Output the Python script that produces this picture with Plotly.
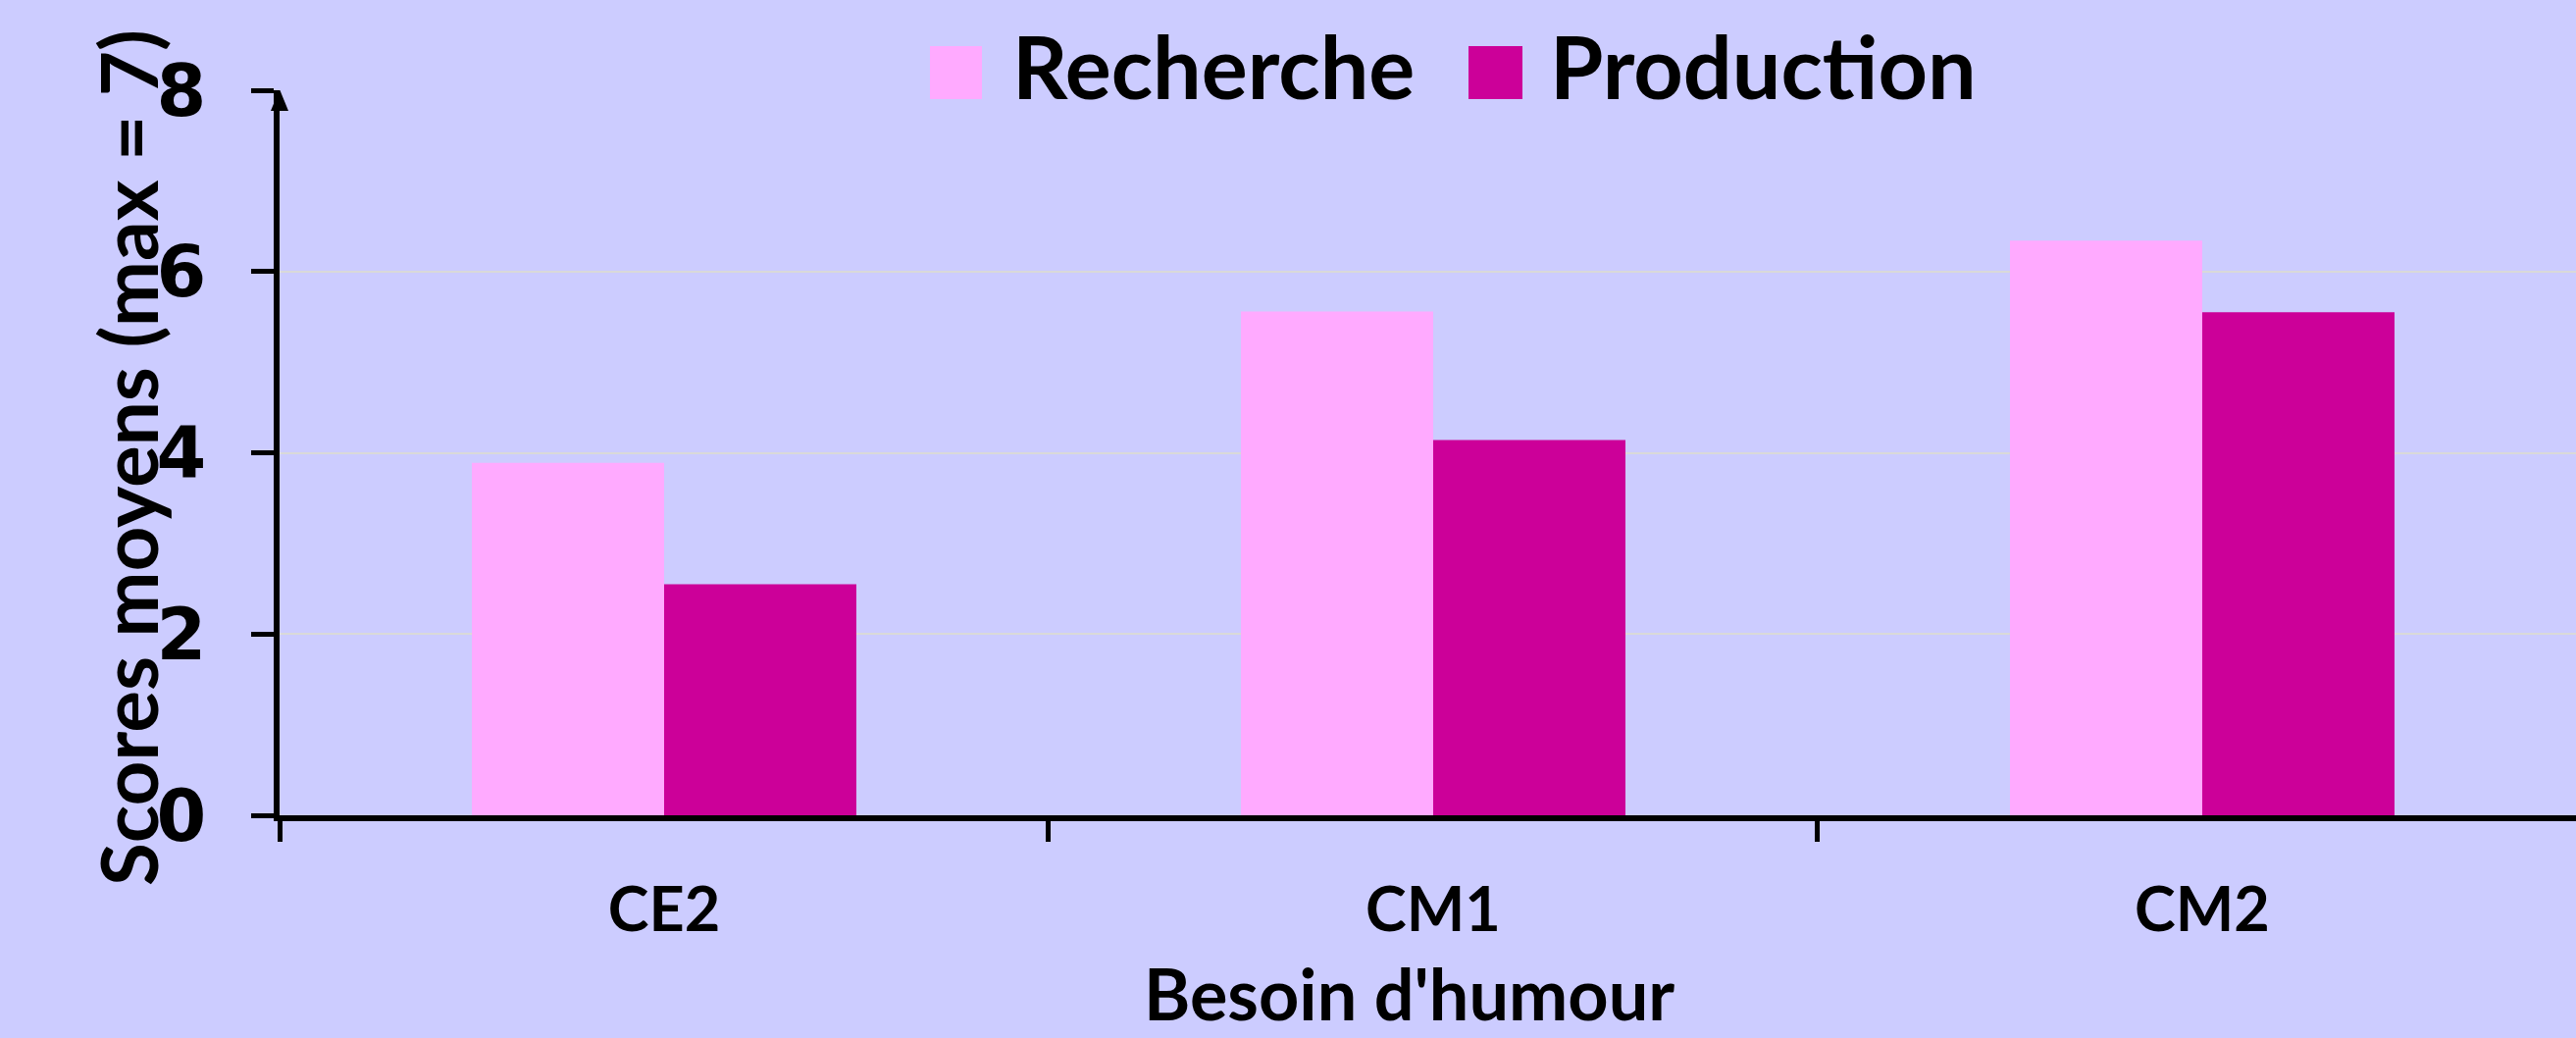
import plotly.graph_objects as go

# ---- data ----
categories = ["CE2", "CM1", "CM2"]
recherche = [3.89, 5.56, 6.34]
production = [2.55, 4.14, 5.55]
series_names = ["Recherche", "Production"]
y_ticks = [0, 2, 4, 6, 8]
y_title = "Scores moyens (max = 7)"
x_title = "Besoin d'humour"

# ---- layout geometry ----
W, H = 2626, 1058
L, R, T, B = 285, 0, 92, 227
PW = W - L - R
PH = H - T - B


def px(x):
    return (x - L) / PW


def py(y):
    return (H - B - y) / PH


BG = "#CCCCFF"
C_REC = "#FFAAFF"
C_PROD = "#CC0099"
TXT = "Lato"

fig = go.Figure()
fig.add_bar(x=categories, y=recherche, name=series_names[0],
            marker=dict(color=C_REC, line_width=0))
fig.add_bar(x=categories, y=production, name=series_names[1],
            marker=dict(color=C_PROD, line_width=0))

fig.update_layout(
    width=W, height=H,
    margin=dict(l=L, r=R, t=T, b=B, pad=0),
    paper_bgcolor=BG, plot_bgcolor=BG,
    barmode="group", bargap=0.5, bargroupgap=0,
    showlegend=False,
)

fig.update_xaxes(
    type="category", range=[-0.5, 2.486],
    tickson="boundaries", ticks="outside", ticklen=21, tickwidth=5,
    tickcolor="black", showline=True, linewidth=6, linecolor="black",
    showgrid=False, zeroline=False,
    tickfont=dict(family=TXT, size=63, color="black", weight="bold"),
    ticklabelstandoff=36,
)
fig.update_yaxes(
    range=[0, 8], tickvals=y_ticks, ticktext=[str(v) for v in y_ticks],
    ticks="outside", ticklen=23, tickwidth=5, tickcolor="black",
    showline=True, linewidth=6, linecolor="black",
    showgrid=True, gridcolor="#D9D9D9", gridwidth=2, zeroline=False,
    tickfont=dict(family="DejaVu Sans", size=73, color="black", weight="bold"),
    ticklabelstandoff=31,
)

# arrow head at the top of the y axis
fig.add_shape(type="path", xref="paper", yref="y",
              xsizemode="pixel", ysizemode="pixel", xanchor=0, yanchor=8,
              path="M-9,-21 L9,-21 L0,1 Z",
              fillcolor="black", line_width=0, layer="above")

# axis titles
fig.add_annotation(text=y_title, textangle=-90, xref="paper", yref="paper",
                   x=px(130), y=py(467), xanchor="center", yanchor="middle",
                   showarrow=False,
                   font=dict(family=TXT, size=80, color="black", weight="bold"))
fig.add_annotation(text=x_title, xref="paper", yref="paper",
                   x=px(1436), y=py(1012), xanchor="center", yanchor="middle",
                   showarrow=False,
                   font=dict(family=TXT, size=72, color="black", weight="bold"))

# custom legend (large square swatches)
legend_items = [
    (series_names[0], C_REC, 948, 1001, 1030),
    (series_names[1], C_PROD, 1497, 1552, 1578),
]
for name, col, sx0, sx1, tx in legend_items:
    fig.add_shape(type="rect", xref="paper", yref="paper",
                  x0=px(sx0), x1=px(sx1), y0=py(101), y1=py(47),
                  fillcolor=col, line_width=0)
    fig.add_annotation(text=name, xref="paper", yref="paper",
                       x=px(tx), y=py(67), xanchor="left", yanchor="middle",
                       showarrow=False,
                       font=dict(family=TXT, size=88, color="black", weight="bold"))

fig.write_html(
    "out.html",
    config={"displayModeBar": False},
    post_script="document.body.style.margin='0';document.body.style.overflow='hidden';",
)
